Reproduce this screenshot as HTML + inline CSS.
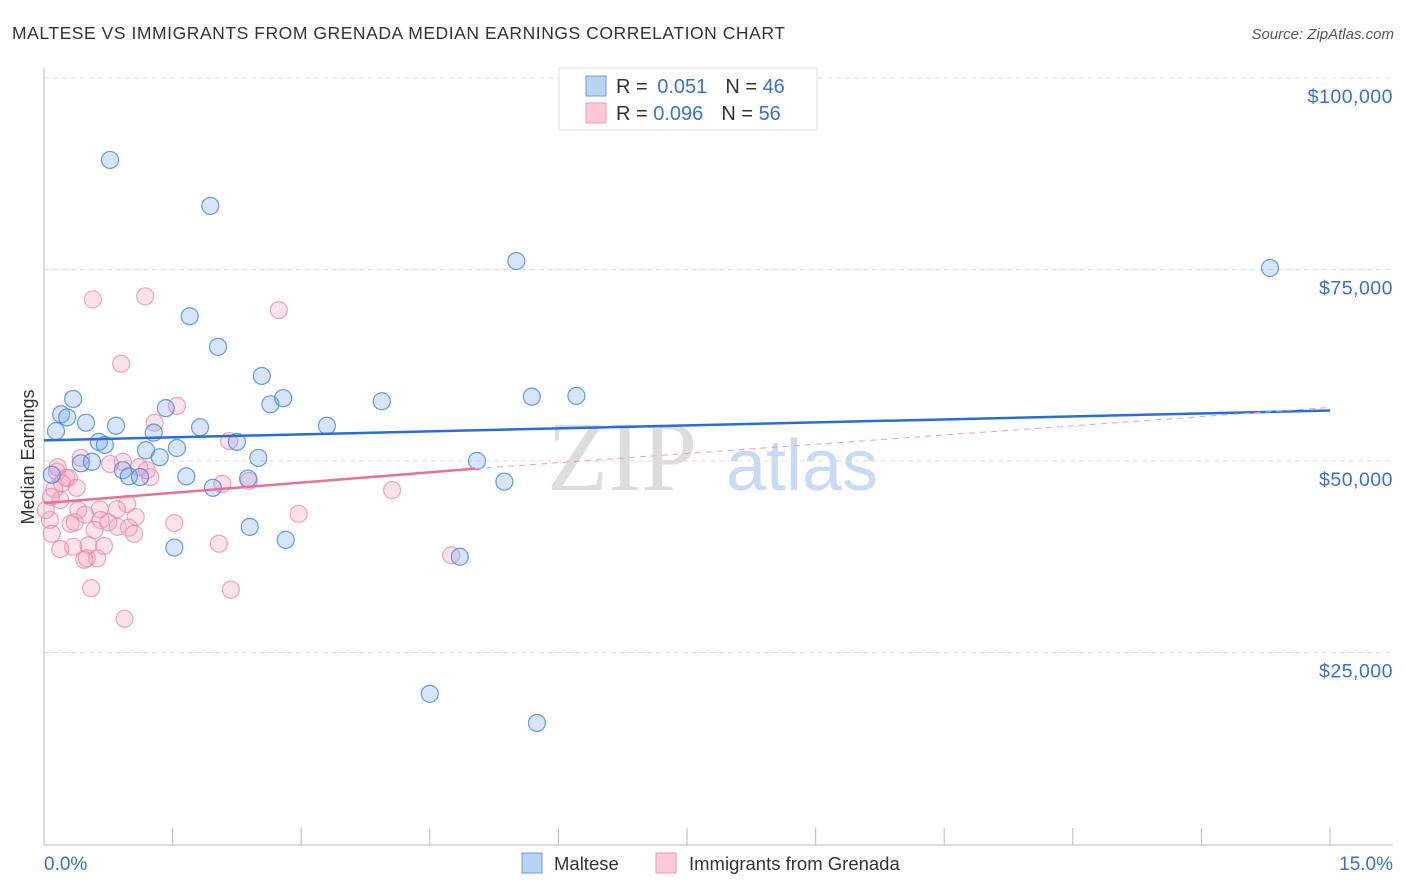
<!DOCTYPE html>
<html><head><meta charset="utf-8"><style>
body{margin:0;background:#fff;font-family:"Liberation Sans",sans-serif}
svg{display:block}
</style></head><body>
<svg id="c" width="1406" height="892">
<text x="12" y="39" font-size="17.5" fill="#333" letter-spacing="0.55">MALTESE VS IMMIGRANTS FROM GRENADA MEDIAN EARNINGS CORRELATION CHART</text>
<text x="1394" y="39" font-size="15" fill="#555" font-style="italic" text-anchor="end">Source: ZipAtlas.com</text>
<text x="622" y="490" font-size="100" fill="#ddd" font-family="Liberation Serif,serif" text-anchor="middle">ZIP</text>
<text x="802" y="490" font-size="72" fill="#c9dbf3" text-anchor="middle">atlas</text>
<g id="grid"></g><g id="axes"></g><g id="marks"></g>
<text transform="translate(34,457) rotate(-90)" font-size="18" fill="#333" text-anchor="middle">Median Earnings</text>
<g>
<rect x="559" y="68" width="258" height="62" fill="#fff" stroke="#ddd"/>
<rect x="586" y="76" width="20" height="20" fill="#b9d3f5" stroke="#6b9be0"/>
<rect x="586" y="103" width="20" height="20" fill="#fbc9d8" stroke="#ee9ab5"/>
<text x="616" y="93" font-size="20" fill="#333">R = <tspan fill="#3a6fd6" dx="4">0.051</tspan><tspan dx="18">N = </tspan><tspan fill="#3a6fd6">46</tspan></text>
<text x="616" y="120" font-size="20" fill="#333">R = <tspan fill="#3a6fd6">0.096</tspan><tspan dx="18">N = </tspan><tspan fill="#3a6fd6">56</tspan></text>
</g>
<g>
<rect x="522" y="853" width="20" height="20" fill="#b9d3f5" stroke="#6b9be0"/>
<text x="554" y="870" font-size="18.5" fill="#333">Maltese</text>
<rect x="656" y="853" width="20" height="20" fill="#fbc9d8" stroke="#ee9ab5"/>
<text x="689" y="870" font-size="18.5" fill="#333">Immigrants from Grenada</text>
</g>
</svg>
<script>
const yTicks=[25000,50000,75000,100000];
const yTickLabels=["$25,000","$50,000","$75,000","$100,000"];
const xTickVals=[1.5,3,4.5,6,7.5,9,10.5,12,13.5,15];
const xEndLabels=["0.0%","15.0%"];
const malteseX=[0.77,1.94,5.51,14.30,1.70,2.03,2.54,2.79,2.64,3.94,5.69,6.21,0.34,0.20,0.27,0.14,0.49,0.84,1.42,1.28,1.82,3.30,2.25,0.64,0.71,1.19,1.55,1.35,2.50,0.43,0.56,0.92,0.99,1.12,1.66,1.97,2.38,5.05,5.37,2.40,2.82,1.52,4.85,4.50,5.75,0.09];
const malteseY=[89300,83300,76100,75200,68900,64900,61100,58200,57400,57800,58400,58500,58100,56100,55700,53900,55000,54600,56900,53700,54400,54600,52500,52500,52100,51400,51700,50500,50400,49700,49900,48800,48000,47900,48000,46500,47700,50000,47300,41400,39700,38700,37500,19600,15800,48200];
const grenadaX=[0.57,1.18,2.74,0.90,1.29,1.55,2.16,0.16,0.15,0.26,0.29,0.43,0.77,0.92,1.11,1.24,2.08,2.39,4.06,0.12,0.19,0.40,0.65,0.97,0.07,0.31,0.36,0.66,0.75,0.86,1.07,1.52,0.09,0.19,0.34,0.52,0.70,0.50,0.62,0.47,0.55,0.94,2.18,2.04,2.97,4.75,0.08,0.48,0.85,0.99,1.05,0.21,0.59,1.20,0.02,0.38];
const grenadaY=[71100,71500,69700,62700,55000,57200,52600,49200,48600,47800,47800,50400,49600,49900,49200,47900,47000,47400,46200,46300,44900,43600,43700,44400,42300,41800,42000,42300,42000,41400,42700,41900,40500,38500,38800,39000,38900,37300,37300,37100,33400,29400,33200,39200,43100,37700,45300,43000,43700,41300,40500,47100,41000,48800,43600,46500];
const malteseTrend=[[0,52700],[15,56600]];
const grenadaTrend=[[0,44500],[5.03,49000]];
const grenadaTrendExt=[[5.03,49000],[15,57000]];
const NS="http://www.w3.org/2000/svg";
const X=v=>44+v/15*1286;
const Y=v=>461-(v-50000)*191.5/25000;
function mk(t,a,p){const e=document.createElementNS(NS,t);for(const k in a)e.setAttribute(k,a[k]);p.appendChild(e);return e;}
const grid=document.getElementById('grid'),axes=document.getElementById('axes'),marks=document.getElementById('marks');
yTicks.forEach((v,i)=>{
 const l=mk('line',{x1:44,x2:1393,y1:Y(v),y2:Y(v),stroke:'#ddd','stroke-dasharray':'5,4'},grid);
 
 
 const t=mk('text',{x:1393,y:Y(v)+25,'font-size':19.5,fill:'#3a6fd6','text-anchor':'end','letter-spacing':0.5},axes);
 t.textContent=yTickLabels[i];
 
 
});
const ax=mk('line',{x1:44,x2:1393,y1:845,y2:845,stroke:'#bbb'},axes);


const ay=mk('line',{x1:44,x2:44,y1:68,y2:845,stroke:'#bbb'},axes);


xTickVals.forEach(v=>{const t=mk('line',{x1:X(v),x2:X(v),y1:828,y2:845,stroke:'#bbb'},axes);
 
 });
const xl0=mk('text',{x:44,y:870,'font-size':19,fill:'#3a6fd6'},axes);xl0.textContent=xEndLabels[0];


const xl1=mk('text',{x:1393,y:870,'font-size':19,fill:'#3a6fd6','text-anchor':'end'},axes);xl1.textContent=xEndLabels[1];


grenadaX.forEach((v,i)=>{const c=mk('circle',{cx:X(v),cy:Y(grenadaY[i]),r:8.5,fill:'rgba(246,160,190,0.3)',stroke:'rgba(232,130,165,0.7)','stroke-width':1.2},marks);
 
 });
malteseX.forEach((v,i)=>{const c=mk('circle',{cx:X(v),cy:Y(malteseY[i]),r:8.5,fill:'rgba(120,170,235,0.3)',stroke:'rgba(70,130,215,0.8)','stroke-width':1.2},marks);
 
 });
const t1=mk('line',{x1:X(malteseTrend[0][0]),y1:Y(malteseTrend[0][1]),x2:X(malteseTrend[1][0]),y2:Y(malteseTrend[1][1]),stroke:'#2a6dd6','stroke-width':2.5},marks);


const t2=mk('line',{x1:X(grenadaTrend[0][0]),y1:Y(grenadaTrend[0][1]),x2:X(grenadaTrend[1][0]),y2:Y(grenadaTrend[1][1]),stroke:'#e8709a','stroke-width':2.5},marks);


const t3=mk('line',{x1:X(grenadaTrendExt[0][0]),y1:Y(grenadaTrendExt[0][1]),x2:X(grenadaTrendExt[1][0]),y2:Y(grenadaTrendExt[1][1]),stroke:'#e8a0b8','stroke-width':1,'stroke-dasharray':'6,5'},marks);


</script>
</body></html>
